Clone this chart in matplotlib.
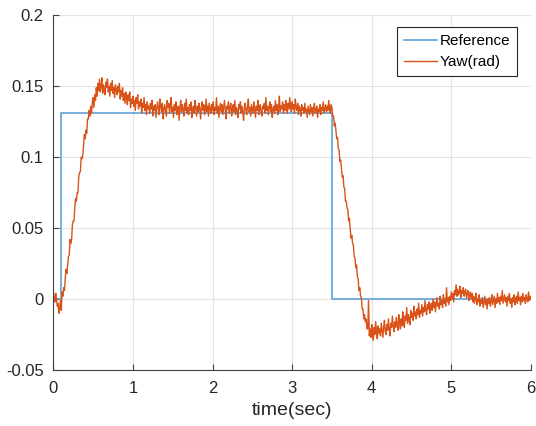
import numpy as np
import matplotlib
matplotlib.use("Agg")
import matplotlib.pyplot as plt

plt.rcParams['font.family'] = ['Liberation Sans', 'DejaVu Sans']

# Reference step signal
ref_times = [0.0, 0.1, 3.5, 6.0]
ref_values = [0.0, 0.131, 0.0, 0.0]

# Measured yaw (mrad), sampled every 0.01 s from 0 to 6 s
yaw_mrad = [
    # 0.00 - 0.10
    5, 1, -2, 4, 0, -5, -3, -10, -6, -1, -8,
    # 0.11 - 0.46 rise
    5, 2, 8, 6, 15, 21, 18, 24, 30, 31, 42, 39, 42, 53, 55, 55, 65, 71, 69, 75,
    75, 87, 89, 90, 100, 99, 101, 109, 116, 113, 119, 117, 127, 127, 133, 129,
    # 0.47 - 1.20 overshoot
    136, 131, 139, 142, 135, 144, 140, 149, 143, 152,
    147, 155, 146, 150, 156, 145, 151, 148, 144, 153,
    149, 155, 146, 150, 143, 152, 147, 154, 145, 149,
    142, 151, 148, 144, 150, 146, 152, 141, 147, 143,
    149, 140, 145, 138, 146, 142, 137, 144, 140, 146,
    135, 141, 138, 143, 136, 140, 133, 142, 138, 144,
    134, 139, 136, 141, 131, 138, 135, 142, 133, 137,
    130, 139, 134, 136,
    # 1.21 - 3.49 steady
    131, 138, 134, 140, 129, 136, 133, 137, 128, 135,
    139, 134, 130, 141, 136, 132, 138, 127, 134, 137,
    133, 129, 140, 135, 138, 131, 136, 142, 132, 135,
    128, 137, 133, 139, 130, 134, 136, 126, 135, 140,
    132, 137, 134, 129, 138, 133, 141, 131, 135, 130,
    137, 133, 139, 128, 134, 136, 131, 140, 135, 129,
    136, 132, 138, 134, 127, 135, 139, 133, 137, 130,
    134, 141, 132, 136, 129, 138, 134, 131, 137, 133,
    139, 130, 135, 133, 142, 131, 136, 128, 134, 138,
    132, 137, 130, 135, 140, 133, 127, 136, 134, 139,
    131, 135, 138, 129, 134, 137, 132, 140, 130, 135,
    133, 128, 137, 134, 139, 131, 136, 132, 126, 135,
    138, 133, 130, 136, 141, 132, 135, 129, 137, 134,
    131, 139, 134, 128, 136, 133, 140, 130, 135, 137,
    132, 129, 136, 134, 138, 131, 142, 133, 136, 130,
    135, 139, 132, 137, 128, 134, 136, 131, 140, 133,
    137, 130, 135, 143, 132, 136, 134, 139, 131, 137,
    133, 140, 135, 131, 138, 134, 142, 136, 132, 139,
    134, 137, 131, 141, 135, 133, 138, 130, 136, 134,
    129, 137, 133, 135, 131, 138, 132, 134, 128, 136,
    133, 130, 137, 132, 135, 129, 134, 138, 131, 133,
    136, 128, 134, 132, 137, 130, 135, 133, 139, 131,
    134, 137, 132, 136, 133, 140, 134, 131, 137,
    # 3.50 - 3.97 fall
    135, 129, 129, 122, 124, 119, 113, 114, 106, 105,
    97, 98, 92, 86, 87, 79, 78, 69, 69, 64,
    63, 55, 57, 49, 43, 45, 39, 38, 30, 29,
    22, 24, 16, 14, 6, 8, 2, 1, -7, -7,
    -14, -11, -16, -14, -21, -21, -1, -26,
    # 3.98 - 6.00 recovery
    -21, -27, -18, -24, -29, -20, -25, -16, -23, -28,
    -19, -24, -21, -26, -17, -22, -27, -20, -15, -23,
    -25, -18, -22, -14, -21, -26, -17, -20, -12, -19,
    -23, -16, -20, -13, -18, -22, -11, -17, -21, -14,
    -19, -9, -16, -20, -12, -15, -6, -17, -11, -14,
    -18, -8, -13, -10, -15, -5, -12, -9, -14, -7,
    -11, -3, -13, -8, -10, -4, -12, -6, -9, -1,
    -8, -11, -4, -7, -2, -10, -5, -3, -8, 0,
    -6, -2, -9, -4, 1, -5, -3, -7, 2, -4,
    -1, -6, 3, -3, 0, -5, 8, -2, 1, -4,
    2, -1, 5, 0, 4, -2, 6, 3, 10, 2,
    7, 3, 5, 9, 1, 6, 4, 8, 2, 5,
    7, 1, 4, 6, -1, 3, 5, 0, 4, -2,
    2, -3, 1, 4, -4, 0, -2, 3, -5, -1,
    -3, 1, -6, -2, 2, -4, -1, -7, 0, -3,
    1, -5, -2, 3, -4, -1, 2, -6, 0, -3,
    4, -2, 1, -4, 2, -1, 6, -3, 0, 3,
    -2, 1, -5, 2, -1, 4, -3, 0, -6, 1,
    -2, 3, -4, 0, 2, -3, 5, -1, 1, -4,
    2, -2, 4, -1, 1, -3, 3, 0, -2, 5,
    -1, 2, 0,
]
yaw = np.array(yaw_mrad) / 1000.0
yaw_t = np.linspace(0.0, 6.0, len(yaw))

x_ticks = [0, 1, 2, 3, 4, 5, 6]
y_ticks = [-0.05, 0, 0.05, 0.1, 0.15, 0.2]
y_ticklabels = ['-0.05', '0', '0.05', '0.1', '0.15', '0.2']

fig = plt.figure(figsize=(5.36, 4.26), dpi=100)
ax = fig.add_axes([0.0995, 0.1315, 0.891, 0.8325])

ax.plot(ref_times, ref_values, drawstyle='steps-post', color='#4F9BD6',
        lw=1.1, label='Reference')
ax.plot(yaw_t, yaw, color='#D95319', lw=1.0, label='Yaw(rad)')

ax.set_xlim(0, 6)
ax.set_ylim(-0.05, 0.2)
ax.set_xticks(x_ticks)
ax.set_yticks(y_ticks)
ax.set_yticklabels(y_ticklabels)
ax.grid(True, color='#e3e3e3', lw=0.8)
ax.set_axisbelow(True)
for s in ['top', 'right']:
    ax.spines[s].set_visible(False)
for s in ['left', 'bottom']:
    ax.spines[s].set_color('#404040')
    ax.spines[s].set_linewidth(0.8)
ax.tick_params(direction='in', length=4, width=0.8, colors='#404040',
               labelcolor='#262626', labelsize=12)
ax.tick_params(axis='x', pad=8)
ax.tick_params(axis='y', pad=7)
ax.set_xlabel('time(sec)', fontsize=14, color='#262626', labelpad=4)

leg = ax.legend(loc='upper right', fontsize=11, frameon=True, fancybox=False,
                edgecolor='#262626', framealpha=1, handlelength=2.2,
                handletextpad=0.15, borderpad=0.45, labelspacing=0.45,
                borderaxespad=0, bbox_to_anchor=(0.971, 0.966))
leg.get_frame().set_linewidth(0.8)

fig.savefig('out.png', dpi=100)
